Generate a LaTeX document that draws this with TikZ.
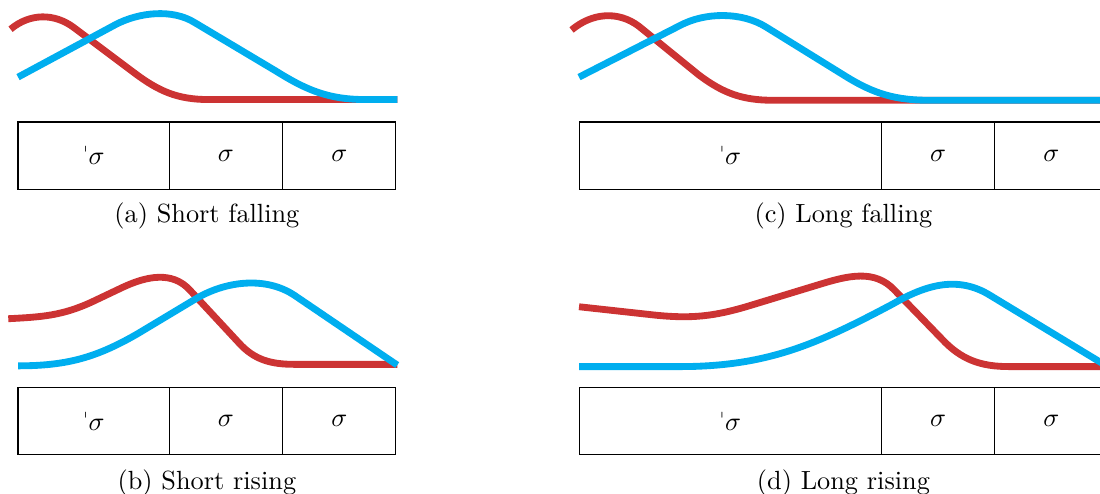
\documentclass[tikz,border=0pt]{standalone}
\usepackage{tipa}
\definecolor{pitchred}{RGB}{204,51,51}
\definecolor{pitchblue}{RGB}{0,174,239}

\begin{document}
\begin{tikzpicture}[cell/.style={outer sep=0, inner sep=0, draw, minimum height=0.9cm, align=center},
    redpitch/.style={pitchred, line width=2.6pt},
    bluepitch/.style={pitchblue, line width=2.6pt}]
  \useasboundingbox (-0.241,1.631) rectangle (14.465,-4.960);

  % (a) short falling
  \draw (0,0) node[cell, anchor=north west, minimum width=2.02cm] (sf1) {\textprimstress$\sigma$};
  \draw (sf1.north east) node[cell, anchor=north west, minimum width=1.52cm] (sf2) {$\sigma$};
  \draw (sf2.north east) node[cell, anchor=north west, minimum width=1.51cm] (sf3) {$\sigma$};
  \node (sfcap) at (2.525,-1.25) {(a) Short falling};
  \draw[redpitch] (-0.1,1.24) to[out=40,in=143] (0.75,1.26) -- (1.55,0.66) to[out=-37,in=180] (2.55,0.3) -- (5.07,0.3);
  \draw[bluepitch] (0,0.6) -- (1.3,1.3) to[out=28,in=148,looseness=0.85] (2.36,1.33) -- (3.45,0.68) to[out=-32,in=180] (4.65,0.3) -- (5.07,0.3);

  % (c) long falling
  \draw (7.5,0) node[cell, anchor=north west, minimum width=4.04cm] (lf1) {\textprimstress$\sigma$};
  \draw (lf1.north east) node[cell, anchor=north west, minimum width=1.52cm] (lf2) {$\sigma$};
  \draw (lf2.north east) node[cell, anchor=north west, minimum width=1.51cm] (lf3) {$\sigma$};
  \node (lfcap) at (11.035,-1.25) {(c) Long falling};
  \begin{scope}[shift={(7.5,0)}]
    \draw[redpitch] (-0.1,1.23) to[out=40,in=143] (0.8,1.28) -- (1.6,0.63) to[out=-37,in=180] (2.6,0.29) -- (7.1,0.29);
    \draw[bluepitch] (0,0.6) -- (1.35,1.29) to[out=28,in=148,looseness=0.85] (2.5,1.27) -- (3.55,0.62) to[out=-32,in=180] (4.7,0.29) -- (7.1,0.29);
  \end{scope}

  % (b) short rising
  \draw (0,-3.55) node[cell, anchor=north west, minimum width=2.02cm] (sr1) {\textprimstress$\sigma$};
  \draw (sr1.north east) node[cell, anchor=north west, minimum width=1.52cm] (sr2) {$\sigma$};
  \draw (sr2.north east) node[cell, anchor=north west, minimum width=1.51cm] (sr3) {$\sigma$};
  \node (srcap) at (2.525,-4.83) {(b) Short rising};
  \begin{scope}[shift={(0,-3.55)}]
    \draw[redpitch] (-0.13,0.92) to[out=3,in=205] (1.0,1.15) -- (1.4,1.34) to[out=25,in=132] (2.3,1.3) -- (2.95,0.6) to[out=-48,in=180] (3.7,0.31) -- (5.07,0.31);
    \draw[bluepitch] (0,0.29) to[out=0,in=210] (1.6,0.72) -- (2.35,1.17) to[out=32,in=146,looseness=0.9] (3.7,1.23) -- (5.07,0.3);
  \end{scope}

  % (d) long rising
  \draw (7.5,-3.55) node[cell, anchor=north west, minimum width=4.04cm] (lr1) {\textprimstress$\sigma$};
  \draw (lr1.north east) node[cell, anchor=north west, minimum width=1.52cm] (lr2) {$\sigma$};
  \draw (lr2.north east) node[cell, anchor=north west, minimum width=1.51cm] (lr3) {$\sigma$};
  \node (lrcap) at (11.035,-4.83) {(d) Long rising};
  \begin{scope}[shift={(7.5,-3.55)}]
    \draw[redpitch] (0,1.08) -- (1.0,0.97) to[out=-6,in=197] (2.3,1.1) -- (3.22,1.38) to[out=17,in=133] (4.22,1.3) -- (4.85,0.65) to[out=-47,in=180] (5.75,0.28) -- (7.1,0.28);
    \draw[bluepitch] (0,0.28) -- (1.35,0.28) to[out=0,in=208] (4.2,1.12) to[out=30,in=148] (5.5,1.23) -- (7.1,0.26);
  \end{scope}
\end{tikzpicture}
\end{document}
